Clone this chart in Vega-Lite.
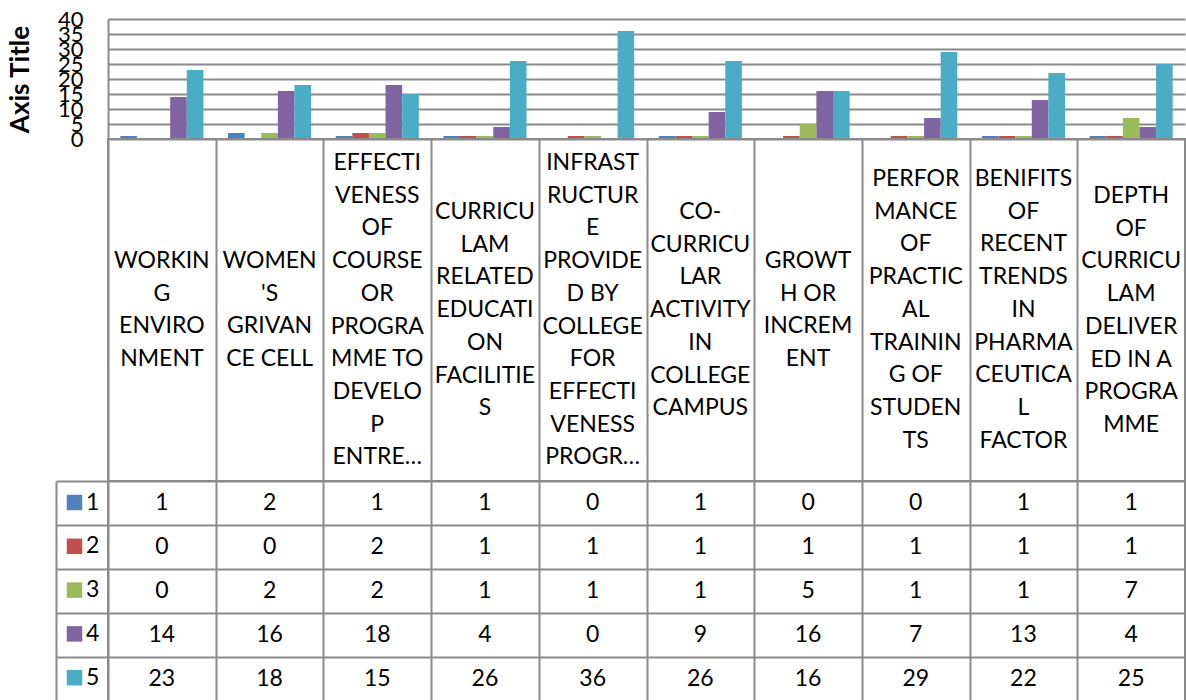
{
  "$schema": "https://vega.github.io/schema/vega-lite/v6.json",
  "autosize": {"type": "pad"},
  "padding": {"left": 7, "top": 8, "right": 0, "bottom": 0},
  "background": "white",
  "config": {
    "font": "Lato",
    "view": {"stroke": "#8a8a8a", "strokeWidth": 2},
    "text": {"color": "#000000"}
  },
  "datasets": {
    "scores": [
      {"category": "WORKING ENVIRONMENT", "series": "1", "value": 1},
      {"category": "WOMEN'S GRIVANCE CELL", "series": "1", "value": 2},
      {"category": "EFFECTIVENESS OF COURSE OR PROGRAMME TO DEVELOP ENTRE…", "series": "1", "value": 1},
      {"category": "CURRICULAM RELATED EDUCATION FACILITIES", "series": "1", "value": 1},
      {"category": "INFRASTRUCTURE PROVIDED BY COLLEGE FOR EFFECTIVENESS PROGR…", "series": "1", "value": 0},
      {"category": "CO-CURRICULAR ACTIVITY IN COLLEGE CAMPUS", "series": "1", "value": 1},
      {"category": "GROWTH OR INCREMENT", "series": "1", "value": 0},
      {"category": "PERFORMANCE OF PRACTICAL TRAINING OF STUDENTS", "series": "1", "value": 0},
      {"category": "BENIFITS OF RECENT TRENDS IN PHARMACEUTICAL FACTOR", "series": "1", "value": 1},
      {"category": "DEPTH OF CURRICULAM DELIVERED IN A PROGRAMME", "series": "1", "value": 1},
      {"category": "WORKING ENVIRONMENT", "series": "2", "value": 0},
      {"category": "WOMEN'S GRIVANCE CELL", "series": "2", "value": 0},
      {"category": "EFFECTIVENESS OF COURSE OR PROGRAMME TO DEVELOP ENTRE…", "series": "2", "value": 2},
      {"category": "CURRICULAM RELATED EDUCATION FACILITIES", "series": "2", "value": 1},
      {"category": "INFRASTRUCTURE PROVIDED BY COLLEGE FOR EFFECTIVENESS PROGR…", "series": "2", "value": 1},
      {"category": "CO-CURRICULAR ACTIVITY IN COLLEGE CAMPUS", "series": "2", "value": 1},
      {"category": "GROWTH OR INCREMENT", "series": "2", "value": 1},
      {"category": "PERFORMANCE OF PRACTICAL TRAINING OF STUDENTS", "series": "2", "value": 1},
      {"category": "BENIFITS OF RECENT TRENDS IN PHARMACEUTICAL FACTOR", "series": "2", "value": 1},
      {"category": "DEPTH OF CURRICULAM DELIVERED IN A PROGRAMME", "series": "2", "value": 1},
      {"category": "WORKING ENVIRONMENT", "series": "3", "value": 0},
      {"category": "WOMEN'S GRIVANCE CELL", "series": "3", "value": 2},
      {"category": "EFFECTIVENESS OF COURSE OR PROGRAMME TO DEVELOP ENTRE…", "series": "3", "value": 2},
      {"category": "CURRICULAM RELATED EDUCATION FACILITIES", "series": "3", "value": 1},
      {"category": "INFRASTRUCTURE PROVIDED BY COLLEGE FOR EFFECTIVENESS PROGR…", "series": "3", "value": 1},
      {"category": "CO-CURRICULAR ACTIVITY IN COLLEGE CAMPUS", "series": "3", "value": 1},
      {"category": "GROWTH OR INCREMENT", "series": "3", "value": 5},
      {"category": "PERFORMANCE OF PRACTICAL TRAINING OF STUDENTS", "series": "3", "value": 1},
      {"category": "BENIFITS OF RECENT TRENDS IN PHARMACEUTICAL FACTOR", "series": "3", "value": 1},
      {"category": "DEPTH OF CURRICULAM DELIVERED IN A PROGRAMME", "series": "3", "value": 7},
      {"category": "WORKING ENVIRONMENT", "series": "4", "value": 14},
      {"category": "WOMEN'S GRIVANCE CELL", "series": "4", "value": 16},
      {"category": "EFFECTIVENESS OF COURSE OR PROGRAMME TO DEVELOP ENTRE…", "series": "4", "value": 18},
      {"category": "CURRICULAM RELATED EDUCATION FACILITIES", "series": "4", "value": 4},
      {"category": "INFRASTRUCTURE PROVIDED BY COLLEGE FOR EFFECTIVENESS PROGR…", "series": "4", "value": 0},
      {"category": "CO-CURRICULAR ACTIVITY IN COLLEGE CAMPUS", "series": "4", "value": 9},
      {"category": "GROWTH OR INCREMENT", "series": "4", "value": 16},
      {"category": "PERFORMANCE OF PRACTICAL TRAINING OF STUDENTS", "series": "4", "value": 7},
      {"category": "BENIFITS OF RECENT TRENDS IN PHARMACEUTICAL FACTOR", "series": "4", "value": 13},
      {"category": "DEPTH OF CURRICULAM DELIVERED IN A PROGRAMME", "series": "4", "value": 4},
      {"category": "WORKING ENVIRONMENT", "series": "5", "value": 23},
      {"category": "WOMEN'S GRIVANCE CELL", "series": "5", "value": 18},
      {"category": "EFFECTIVENESS OF COURSE OR PROGRAMME TO DEVELOP ENTRE…", "series": "5", "value": 15},
      {"category": "CURRICULAM RELATED EDUCATION FACILITIES", "series": "5", "value": 26},
      {"category": "INFRASTRUCTURE PROVIDED BY COLLEGE FOR EFFECTIVENESS PROGR…", "series": "5", "value": 36},
      {"category": "CO-CURRICULAR ACTIVITY IN COLLEGE CAMPUS", "series": "5", "value": 26},
      {"category": "GROWTH OR INCREMENT", "series": "5", "value": 16},
      {"category": "PERFORMANCE OF PRACTICAL TRAINING OF STUDENTS", "series": "5", "value": 29},
      {"category": "BENIFITS OF RECENT TRENDS IN PHARMACEUTICAL FACTOR", "series": "5", "value": 22},
      {"category": "DEPTH OF CURRICULAM DELIVERED IN A PROGRAMME", "series": "5", "value": 25}
    ],
    "labels": [
      {"category": "WORKING ENVIRONMENT", "label": "WORKIN\nG\nENVIRO\nNMENT"},
      {"category": "WOMEN'S GRIVANCE CELL", "label": "WOMEN\n'S\nGRIVAN\nCE CELL"},
      {"category": "EFFECTIVENESS OF COURSE OR PROGRAMME TO DEVELOP ENTRE…", "label": "EFFECTI\nVENESS\nOF\nCOURSE\nOR\nPROGRA\nMME TO\nDEVELO\nP\nENTRE…"},
      {"category": "CURRICULAM RELATED EDUCATION FACILITIES", "label": "CURRICU\nLAM\nRELATED\nEDUCATI\nON\nFACILITIE\nS"},
      {"category": "INFRASTRUCTURE PROVIDED BY COLLEGE FOR EFFECTIVENESS PROGR…", "label": "INFRAST\nRUCTUR\nE\nPROVIDE\nD BY\nCOLLEGE\nFOR\nEFFECTI\nVENESS\nPROGR…"},
      {"category": "CO-CURRICULAR ACTIVITY IN COLLEGE CAMPUS", "label": "CO-\nCURRICU\nLAR\nACTIVITY\nIN\nCOLLEGE\nCAMPUS"},
      {"category": "GROWTH OR INCREMENT", "label": "GROWT\nH OR\nINCREM\nENT"},
      {"category": "PERFORMANCE OF PRACTICAL TRAINING OF STUDENTS", "label": "PERFOR\nMANCE\nOF\nPRACTIC\nAL\nTRAININ\nG OF\nSTUDEN\nTS"},
      {"category": "BENIFITS OF RECENT TRENDS IN PHARMACEUTICAL FACTOR", "label": "BENIFITS\nOF\nRECENT\nTRENDS\nIN\nPHARMA\nCEUTICA\nL\nFACTOR"},
      {"category": "DEPTH OF CURRICULAM DELIVERED IN A PROGRAMME", "label": "DEPTH\nOF\nCURRICU\nLAM\nDELIVER\nED IN A\nPROGRA\nMME"}
    ]
  },
  "spacing": 0,
  "bounds": "flush",
  "vconcat": [
    {
      "width": 1077,
      "height": 120,
      "view": {"stroke": null},
      "data": {"name": "scores"},
      "mark": {"type": "bar"},
      "encoding": {
        "x": {"field": "category", "type": "nominal",
          "sort": ["WORKING ENVIRONMENT", "WOMEN'S GRIVANCE CELL", "EFFECTIVENESS OF COURSE OR PROGRAMME TO DEVELOP ENTRE…", "CURRICULAM RELATED EDUCATION FACILITIES", "INFRASTRUCTURE PROVIDED BY COLLEGE FOR EFFECTIVENESS PROGR…", "CO-CURRICULAR ACTIVITY IN COLLEGE CAMPUS", "GROWTH OR INCREMENT", "PERFORMANCE OF PRACTICAL TRAINING OF STUDENTS", "BENIFITS OF RECENT TRENDS IN PHARMACEUTICAL FACTOR", "DEPTH OF CURRICULAM DELIVERED IN A PROGRAMME"],
          "scale": {"paddingInner": 0, "paddingOuter": 0}, "axis": null},
        "xOffset": {"field": "series", "type": "nominal", "scale": {"paddingInner": 0, "paddingOuter": 0.74}},
        "y": {
          "field": "value", "type": "quantitative",
          "scale": {"domain": [0, 40], "nice": false},
          "axis": {
            "values": [0, 5, 10, 15, 20, 25, 30, 35, 40],
            "title": "Axis Title",
            "titleFontSize": 26, "titleFontWeight": "bold", "titleColor": "#000000", "titlePadding": 24,
            "labelFontSize": 22, "labelColor": "#000000", "labelPadding": 25,
            "labelOverlap": false, "labelFlush": false, "labelBound": false,
            "ticks": false,
            "domain": true, "domainColor": "#8a8a8a", "domainWidth": 2,
            "grid": true, "gridColor": "#8a8a8a", "gridWidth": 2, "gridOpacity": 1
          }
        },
        "color": {
          "field": "series", "type": "nominal",
          "scale": {"domain": ["1", "2", "3", "4", "5"], "range": ["#4F81BD", "#C0504D", "#9BBB59", "#8064A2", "#4BACC6"]},
          "legend": {
            "orient": "none", "legendX": -45, "legendY": 472,
            "title": null, "symbolType": "square", "symbolSize": 240, "symbolStrokeWidth": 0,
            "labelFontSize": 23, "labelColor": "#000000", "labelOffset": 0,
            "rowPadding": 19.8, "padding": 0
          }
        }
      }
    },
    {
      "width": 1077,
      "height": 342,
      "data": {"name": "labels"},
      "encoding": {
        "x": {"field": "category", "type": "nominal",
          "sort": ["WORKING ENVIRONMENT", "WOMEN'S GRIVANCE CELL", "EFFECTIVENESS OF COURSE OR PROGRAMME TO DEVELOP ENTRE…", "CURRICULAM RELATED EDUCATION FACILITIES", "INFRASTRUCTURE PROVIDED BY COLLEGE FOR EFFECTIVENESS PROGR…", "CO-CURRICULAR ACTIVITY IN COLLEGE CAMPUS", "GROWTH OR INCREMENT", "PERFORMANCE OF PRACTICAL TRAINING OF STUDENTS", "BENIFITS OF RECENT TRENDS IN PHARMACEUTICAL FACTOR", "DEPTH OF CURRICULAM DELIVERED IN A PROGRAMME"],
          "scale": {"paddingInner": 0, "paddingOuter": 0},
          "axis": {"title": null, "labels": false, "ticks": false, "domain": false, "grid": true, "tickBand": "extent", "gridColor": "#8a8a8a", "gridWidth": 2, "gridOpacity": 1}},
        "text": {"field": "label", "type": "nominal"}
      },
      "layer": [
        {
          "transform": [{"filter": {"field": "category", "oneOf": ["WORKING ENVIRONMENT", "WOMEN'S GRIVANCE CELL", "GROWTH OR INCREMENT"]}}],
          "mark": {"type": "text", "fontSize": 23, "lineBreak": "\n", "lineHeight": 32.7, "baseline": "middle", "align": "center", "dy": -49}
        },
        {
          "transform": [{"filter": {"field": "category", "oneOf": ["CURRICULAM RELATED EDUCATION FACILITIES", "CO-CURRICULAR ACTIVITY IN COLLEGE CAMPUS"]}}],
          "mark": {"type": "text", "fontSize": 23, "lineBreak": "\n", "lineHeight": 32.7, "baseline": "middle", "align": "center", "dy": -98}
        },
        {
          "transform": [{"filter": {"field": "category", "oneOf": ["DEPTH OF CURRICULAM DELIVERED IN A PROGRAMME"]}}],
          "mark": {"type": "text", "fontSize": 23, "lineBreak": "\n", "lineHeight": 32.7, "baseline": "middle", "align": "center", "dy": -114}
        },
        {
          "transform": [{"filter": {"field": "category", "oneOf": ["PERFORMANCE OF PRACTICAL TRAINING OF STUDENTS", "BENIFITS OF RECENT TRENDS IN PHARMACEUTICAL FACTOR"]}}],
          "mark": {"type": "text", "fontSize": 23, "lineBreak": "\n", "lineHeight": 32.7, "baseline": "middle", "align": "center", "dy": -131}
        },
        {
          "transform": [{"filter": {"field": "category", "oneOf": ["EFFECTIVENESS OF COURSE OR PROGRAMME TO DEVELOP ENTRE…", "INFRASTRUCTURE PROVIDED BY COLLEGE FOR EFFECTIVENESS PROGR…"]}}],
          "mark": {"type": "text", "fontSize": 23, "lineBreak": "\n", "lineHeight": 32.7, "baseline": "middle", "align": "center", "dy": -147}
        }
      ]
    },
    {
      "width": 1077,
      "height": 220,
      "data": {"name": "scores"},
      "mark": {"type": "text", "fontSize": 23, "baseline": "middle", "align": "center"},
      "encoding": {
        "x": {"field": "category", "type": "nominal",
          "sort": ["WORKING ENVIRONMENT", "WOMEN'S GRIVANCE CELL", "EFFECTIVENESS OF COURSE OR PROGRAMME TO DEVELOP ENTRE…", "CURRICULAM RELATED EDUCATION FACILITIES", "INFRASTRUCTURE PROVIDED BY COLLEGE FOR EFFECTIVENESS PROGR…", "CO-CURRICULAR ACTIVITY IN COLLEGE CAMPUS", "GROWTH OR INCREMENT", "PERFORMANCE OF PRACTICAL TRAINING OF STUDENTS", "BENIFITS OF RECENT TRENDS IN PHARMACEUTICAL FACTOR", "DEPTH OF CURRICULAM DELIVERED IN A PROGRAMME"],
          "scale": {"paddingInner": 0, "paddingOuter": 0},
          "axis": {"title": null, "labels": false, "ticks": false, "domain": false, "grid": true, "tickBand": "extent", "gridColor": "#8a8a8a", "gridWidth": 2, "gridOpacity": 1}},
        "y": {"field": "series", "type": "nominal", "sort": ["1", "2", "3", "4", "5"], "scale": {"paddingInner": 0, "paddingOuter": 0},
          "axis": {"title": null, "labels": false, "offset": 52, "ticks": true, "tickSize": -52, "tickColor": "#8a8a8a", "tickWidth": 2, "tickBand": "extent", "domain": true, "domainColor": "#8a8a8a", "domainWidth": 2, "grid": true, "gridColor": "#8a8a8a", "gridWidth": 2, "gridOpacity": 1}},
        "text": {"field": "value", "type": "quantitative"}
      }
    }
  ]
}
